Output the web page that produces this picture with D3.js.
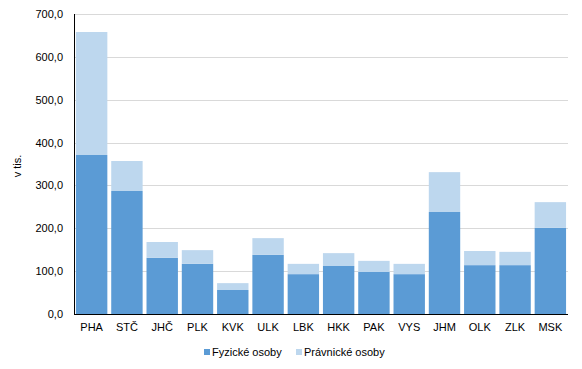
<!DOCTYPE html>
<html>
<head>
<meta charset="utf-8">
<script src="https://cdn.jsdelivr.net/npm/d3@7"></script>
<style>
  body { margin: 0; background: #fff; }
  svg text { font-family: "Liberation Sans", Arial, sans-serif; font-size: 11px; fill: #000; }
</style>
</head>
<body>
<svg id="chart" width="582" height="369"></svg>
<script>
// data
let regions = ["PHA", "STČ", "JHČ", "PLK", "KVK", "ULK", "LBK", "HKK", "PAK", "VYS", "JHM", "OLK", "ZLK", "MSK"];
let fyzicke = [371, 287, 131, 117, 56, 138, 93, 112, 98, 93, 238, 114, 114, 201];
let pravnicke = [287, 70, 37, 32, 16, 39, 24, 30, 26, 24, 93, 33, 31, 60];
let yTicks = [0, 100, 200, 300, 400, 500, 600, 700];
let seriesNames = ["Fyzické osoby", "Právnické osoby"];
let colors = ["#5b9bd5", "#bdd7ee"];

let svg = d3.select("#chart");
let margin = {left: 74, right: 14, top: 14, bottom: 55};
let W = 582, H = 369;

let x = d3.scaleBand().domain(regions)
    .range([margin.left, W - margin.right])
    .paddingInner(0.11).paddingOuter(0.055);
let y = d3.scaleLinear().domain([0, 700]).range([H - margin.bottom, margin.top]);

// grid
svg.append("g").selectAll("line").data(yTicks.slice(1)).enter()
    .append("line")
    .attr("x1", margin.left).attr("x2", W - margin.right)
    .attr("y1", d => Math.round(y(d)) + 0.5).attr("y2", d => Math.round(y(d)) + 0.5)
    .attr("stroke", "#d9d9d9").attr("stroke-width", 1);

// stacked bars
let rows = regions.map((r, i) => ({region: r, f: fyzicke[i], p: pravnicke[i]}));
let stack = d3.stack().keys(["f", "p"])(rows);
svg.append("g").selectAll("g").data(stack).enter()
    .append("g").attr("fill", (d, i) => colors[i])
    .selectAll("rect").data(d => d).enter()
    .append("rect")
    .attr("x", d => x(d.data.region))
    .attr("width", x.bandwidth())
    .attr("y", d => y(d[1]))
    .attr("height", d => y(d[0]) - y(d[1]));

// axes
let fmt = d => d3.format(".1f")(d).replace(".", ",");
svg.append("g").selectAll("text").data(yTicks).enter()
    .append("text")
    .attr("x", margin.left - 11).attr("y", d => y(d) + 4)
    .attr("text-anchor", "end")
    .text(fmt);

svg.append("line")
    .attr("x1", margin.left + 0.5).attr("x2", margin.left + 0.5)
    .attr("y1", margin.top).attr("y2", y(0))
    .attr("stroke", "#000");
svg.append("line")
    .attr("x1", margin.left).attr("x2", W - margin.right)
    .attr("y1", y(0) + 0.5).attr("y2", y(0) + 0.5)
    .attr("stroke", "#000");

svg.append("g").selectAll("text").data(regions).enter()
    .append("text")
    .attr("x", d => x(d) + x.bandwidth() / 2)
    .attr("y", y(0) + 17)
    .attr("text-anchor", "middle")
    .text(d => d);

svg.append("text")
    .attr("transform", "translate(21," + 166 + ") rotate(-90)")
    .attr("text-anchor", "middle")
    .text("v tis.");

// legend
let legendX = [204, 296];
let lg = svg.append("g").selectAll("g").data(seriesNames).enter()
    .append("g").attr("transform", (d, i) => "translate(" + legendX[i] + ",349)");
lg.append("rect").attr("width", 6).attr("height", 6).attr("y", 0)
    .attr("fill", (d, i) => colors[i]);
lg.append("text").attr("x", 8).attr("y", 7).text(d => d);
</script>
</body>
</html>
